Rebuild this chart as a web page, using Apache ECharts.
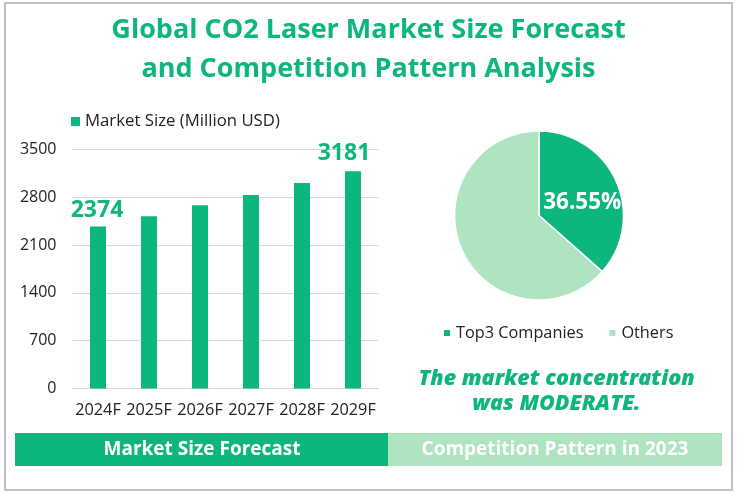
<!DOCTYPE html>
<html><head><meta charset="utf-8">
<style>html,body{margin:0;padding:0;background:#fff}#c{width:737px;height:493px}</style>
<script src="https://cdn.jsdelivr.net/npm/echarts@6/dist/echarts.min.js"></script>
</head><body><div id="c"></div>
<script>
const years = ['2024F','2025F','2026F','2027F','2028F','2029F'];
const marketSize = [2374,2524,2685,2832,3008,3181];
const yTicks = {min:0,max:3500,interval:700};
const shareNames = ['Top3 Companies','Others'];
const shareValues = [36.55,63.45];
const titleLines = 'Global CO2 Laser Market Size Forecast\nand Competition Pattern Analysis';
const note = 'The market concentration\nwas MODERATE.';
const G='#0DB57F', L='#AEE4BF', F='"Open Sans","Noto Sans",sans-serif';
const chart = echarts.init(document.getElementById('c'),null,{renderer:'canvas'});
chart.setOption({
 animation:false,
 textStyle:{fontFamily:F},
 graphic:[
  {type:'rect',shape:{x:5,y:3,width:727,height:487},style:{fill:'#fff',stroke:'#BFBFBF',lineWidth:2},z:-10},
  {type:'rect',shape:{x:15,y:433,width:373,height:33},style:{fill:G},z:0},
  {type:'rect',shape:{x:388,y:433,width:334,height:33},style:{fill:L},z:0},
  {type:'text',x:202,y:450,style:{text:'Market Size Forecast',fill:'#fff',font:'bold 19px '+F,align:'center',verticalAlign:'middle'},z:1},
  {type:'text',x:555,y:450,style:{text:'Competition Pattern in 2023',fill:'#fff',font:'bold 19px '+F,align:'center',verticalAlign:'middle'},z:1},
  {type:'text',x:368.5,y:49.5,style:{text:titleLines,fill:G,font:'bold 27px '+F,align:'center',verticalAlign:'middle',lineHeight:39},z:1},
  {type:'text',x:556.5,y:391,style:{text:note,fill:G,font:'italic 800 21.5px '+F,align:'center',verticalAlign:'middle',lineHeight:25},z:1}
 ],
 legend:[
  {seriesIndex:0,data:['Market Size (Million USD)'],left:66,top:108,itemWidth:9,itemHeight:9,itemGap:5,icon:'rect',textStyle:{fontSize:16.75,color:'#222',fontFamily:F}},
  {data:shareNames,left:437,top:320,itemWidth:8,itemHeight:8,itemGap:24,icon:'rect',textStyle:{fontSize:16.3,color:'#222',fontFamily:F}}
 ],
 grid:{left:72.5,top:149.5,width:306,height:239,containLabel:false},
 xAxis:{type:'category',data:years,axisLine:{lineStyle:{color:'#D9D9D9'}},axisTick:{show:false},
  axisLabel:{fontSize:16.3,color:'#222',margin:14,interval:0,fontFamily:F}},
 yAxis:{type:'value',min:yTicks.min,max:yTicks.max,interval:yTicks.interval,axisLine:{show:false},axisTick:{show:false},
  splitLine:{lineStyle:{color:'#D9D9D9'}},axisLabel:{fontSize:16,color:'#222',margin:16,fontFamily:F,formatter:v=>String(v)}},
 series:[
  {type:'bar',name:'Market Size (Million USD)',
   data:marketSize.map((v,i)=>({value:v,label:{
     show:i===0||i===years.length-1,
     offset:i===0?[-1,2]:[-9,0]}})),
   barWidth:16,itemStyle:{color:G},
   label:{position:'top',distance:6,color:G,fontSize:23,fontWeight:'bold',fontFamily:F}},
  {type:'pie',center:[539,215.5],radius:[0,84.5],startAngle:90,clockwise:true,
   data:shareNames.map((n,i)=>({name:n,value:shareValues[i],itemStyle:{color:i?L:G},
    label:{show:i===0}})),
   itemStyle:{borderColor:'#fff',borderWidth:1.5},
   label:{position:'inside',formatter:p=>p.value.toFixed(2)+'%',color:'#fff',fontSize:22.5,fontWeight:'bold',fontFamily:F,offset:[2,6]},
   labelLine:{show:false}}
 ]
});
</script></body></html>
